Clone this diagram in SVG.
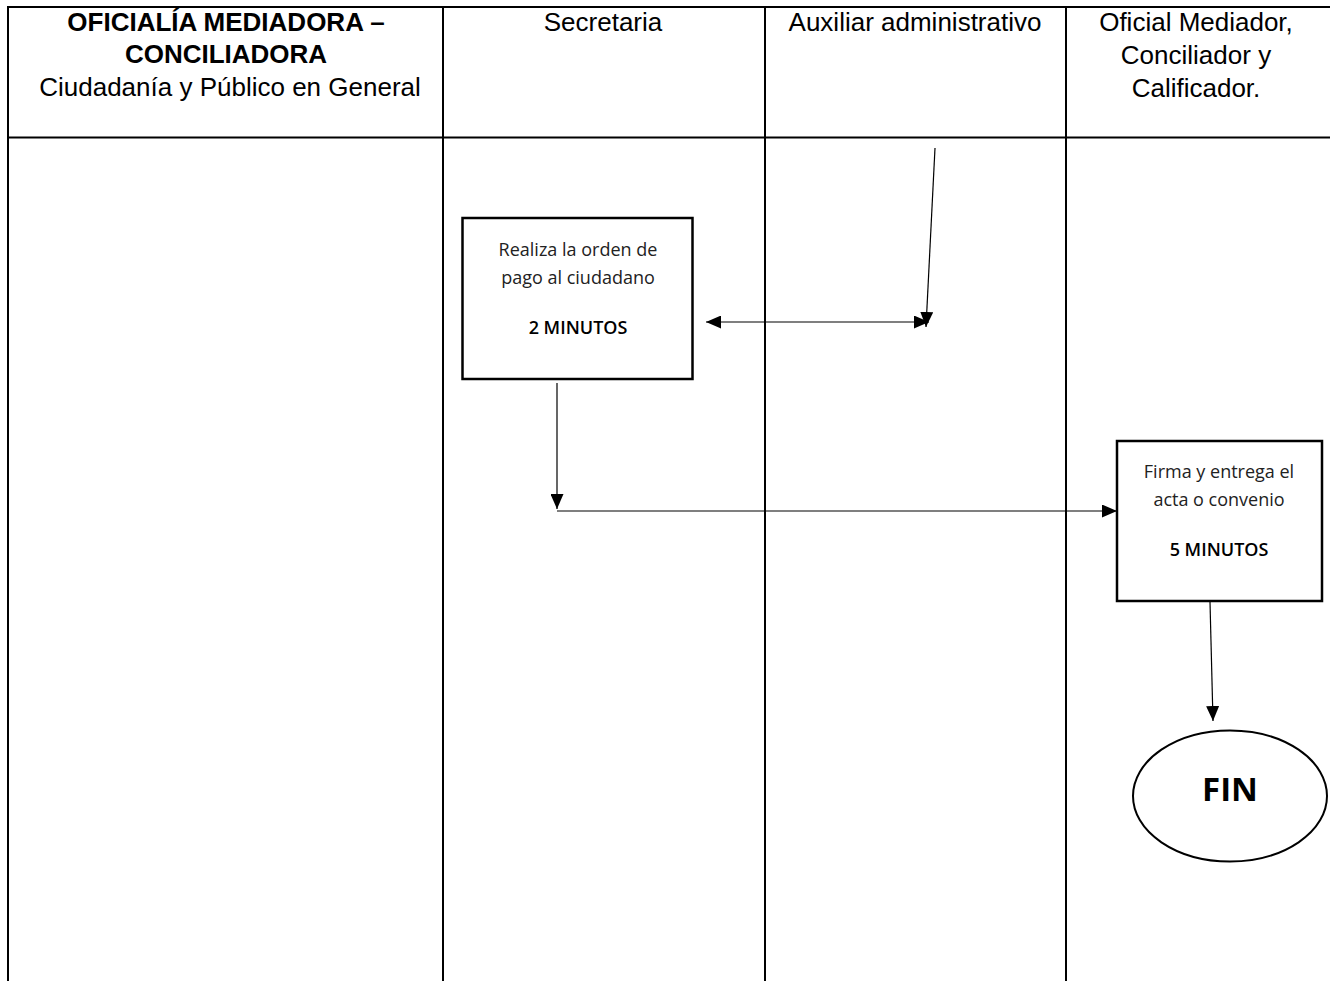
<svg xmlns="http://www.w3.org/2000/svg" width="1330" height="981" viewBox="0 0 1330 981">
<style>
.grid{stroke:#000;stroke-width:2;fill:none}
.hd{font-family:"Liberation Sans",Arial,sans-serif;font-size:26px;fill:#000;text-anchor:middle}
.hb{font-weight:bold}
.box{fill:#fff;stroke:#000;stroke-width:2.5}
.bt{font-family:"Open Sans","Noto Sans",sans-serif;font-size:18px;font-weight:400;fill:#222;text-anchor:middle}
.bb{font-weight:600;fill:#000}
.fin{font-family:"Open Sans","Noto Sans",sans-serif;font-size:33px;font-weight:bold;fill:#000;text-anchor:middle}
.cn{stroke:#000;stroke-width:1.2;fill:none}
</style>
<defs>
<marker id="ah" viewBox="0 0 15 13" refX="15" refY="6.5" markerWidth="15" markerHeight="13" markerUnits="userSpaceOnUse" orient="auto-start-reverse">
<path d="M0,0 L15,6.5 L0,13 Z" fill="#000"/>
</marker>
</defs>
<rect width="1330" height="981" fill="#fff"/>
<g id="table">
<line class="grid" x1="8" y1="7" x2="1330" y2="7"/>
<line class="grid" x1="8" y1="137.5" x2="1330" y2="137.5"/>
<line class="grid" x1="8" y1="6" x2="8" y2="981"/>
<line class="grid" x1="443" y1="6" x2="443" y2="981"/>
<line class="grid" x1="765" y1="6" x2="765" y2="981"/>
<line class="grid" x1="1066" y1="6" x2="1066" y2="981"/>
</g>
<g id="header-oficialia">
<text class="hd hb" x="226" y="31">OFICIALÍA MEDIADORA –</text>
<text class="hd hb" x="226" y="63">CONCILIADORA</text>
<text class="hd" x="230" y="96">Ciudadanía y Público en General</text>
</g>
<g id="header-secretaria"><text class="hd" x="603" y="31">Secretaria</text></g>
<g id="header-auxiliar"><text class="hd" x="915" y="31">Auxiliar administrativo</text></g>
<g id="header-oficial">
<text class="hd" x="1196" y="31">Oficial Mediador,</text>
<text class="hd" x="1196" y="64">Conciliador y</text>
<text class="hd" x="1196" y="97">Calificador.</text>
</g>
<g id="connectors">
<line class="cn" x1="935" y1="148" x2="926" y2="327" marker-end="url(#ah)"/>
<line class="cn" x1="706" y1="322" x2="929" y2="322" marker-start="url(#ah)" marker-end="url(#ah)"/>
<line class="cn" x1="557" y1="383" x2="557" y2="509" marker-end="url(#ah)"/>
<line class="cn" x1="557" y1="511" x2="1117" y2="511" stroke="#444" marker-end="url(#ah)"/>
<line class="cn" x1="1210" y1="602" x2="1213" y2="721" marker-end="url(#ah)"/>
</g>
<g id="node-orden-pago">
<rect class="box" x="462.5" y="218" width="230" height="161"/>
<text class="bt" x="578" y="256">Realiza la orden de</text>
<text class="bt" x="578" y="284">pago al ciudadano</text>
<text class="bt bb" x="578" y="334">2 MINUTOS</text>
</g>
<g id="node-firma">
<rect class="box" x="1117" y="441" width="205" height="160"/>
<text class="bt" x="1219" y="478">Firma y entrega el</text>
<text class="bt" x="1219" y="506">acta o convenio</text>
<text class="bt bb" x="1219" y="556">5 MINUTOS</text>
</g>
<g id="node-fin">
<ellipse cx="1230" cy="796" rx="97" ry="65.5" fill="#fff" stroke="#000" stroke-width="2"/>
<text class="fin" x="1230" y="801">FIN</text>
</g>
</svg>
